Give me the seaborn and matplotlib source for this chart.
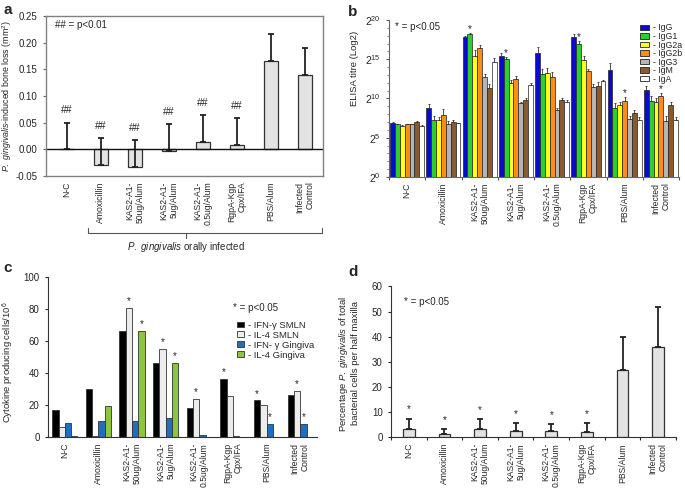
# ==========================================
# P. GINGIVALIS VACCINE FIGURE (4 PANELS)
# ==========================================
import numpy as np
import pandas as pd
import matplotlib
matplotlib.use("Agg")
import matplotlib.pyplot as plt
import matplotlib.transforms as mtransforms
from matplotlib.patches import Patch
from matplotlib.ticker import MultipleLocator, FixedLocator, FormatStrFormatter
import seaborn as sns

# -------------------------------
# 1. DATA
# -------------------------------
groups = ["N-C", "Amoxicillin", "KAS2-A1-\n50ug/Alum", "KAS2-A1-\n5ug/Alum",
          "KAS2-A1-\n0.5ug/Alum", "RgpA-Kgp\nCpx/IFA", "PBS/Alum", "Infected\nControl"]

# a - bone loss (mm2), upper error only
bone_loss = [0.0, -0.030, -0.033, -0.003, 0.013, 0.008, 0.165, 0.140]
bone_err = [0.050, 0.051, 0.050, 0.050, 0.051, 0.051, 0.051, 0.050]
bone_sig = ["##", "##", "##", "##", "##", "##", "", ""]

# b - ELISA titre (log2 exponent)
isotypes = ["IgG", "IgG1", "IgG2a", "IgG2b", "IgG3", "IgM", "IgA"]
igg = [6.84, 8.83, 17.80, 15.40, 15.75, 17.87, 13.63, 11.08]
igg1 = [6.70, 7.26, 18.20, 15.00, 13.10, 17.00, 8.75, 9.72]
igg2a = [6.54, 7.20, 15.45, 12.00, 13.20, 14.90, 9.17, 9.60]
igg2b = [6.70, 7.86, 16.40, 12.45, 12.75, 13.50, 9.72, 10.30]
igg3 = [6.70, 6.75, 12.70, 9.40, 8.50, 11.40, 7.39, 7.17]
igm = [7.00, 7.05, 11.30, 9.80, 9.75, 11.60, 8.10, 9.17]
iga = [6.54, 6.84, 14.70, 11.70, 9.55, 12.27, 7.26, 7.26]
igg_err = [0.15, 0.50, 0.20, 0.42, 0.85, 0.30, 0.85, 0.50]
igg1_err = [0.10, 0.47, 0.17, 0.30, 0.68, 0.30, 0.64, 0.55]
igg2a_err = [0.10, 0.50, 0.72, 0.30, 0.64, 0.47, 0.34, 0.42]
igg2b_err = [0.10, 0.80, 0.47, 0.38, 0.68, 0.30, 0.50, 0.42]
igg3_err = [0.10, 0.34, 0.47, 0.20, 0.25, 0.42, 0.42, 0.55]
igm_err = [0.15, 0.25, 0.55, 0.20, 0.30, 0.50, 0.38, 0.34]
iga_err = [0.10, 0.10, 0.50, 0.25, 0.20, 0.10, 0.42, 0.42]
b_sig = [(2, "IgG1"), (3, "IgG1"), (5, "IgG1"), (6, "IgG2b"), (7, "IgG2b")]

# c - cytokine producing cells / 10^6
cytokines = ["IFN-\u03b3 SMLN", "IL-4 SMLN", "IFN- \u03b3 Gingiva", "IL-4 Gingiva"]
ifn_smln = [17, 30, 66.5, 46.5, 18, 36.5, 23, 26.5]
il4_smln = [6.5, 0.5, 81, 55.5, 24, 26, 20, 29]
ifn_ging = [9, 10, 10, 12, 1.5, 0.5, 8.5, 8.5]
il4_ging = [1, 19.5, 66.5, 46.5, 0, 0, 0, 0]
c_sig = [(2, 1), (2, 3), (3, 1), (3, 3), (4, 1), (5, 0), (6, 0), (6, 2), (7, 1), (7, 2)]

# d - % P. gingivalis of total bacteria
pg_pct = [3.5, 1.5, 3.2, 2.5, 2.7, 2.0, 27.0, 36.0]
pg_err = [4.0, 1.8, 4.1, 3.2, 2.7, 3.7, 12.9, 15.8]
pg_sig = ["*", "*", "*", "*", "*", "*", "", ""]

# -------------------------------
# 2. STYLE
# -------------------------------
sns.set_style("ticks")
plt.rcParams["font.family"] = ["Liberation Sans", "DejaVu Sans"]
plt.rcParams["mathtext.fontset"] = "custom"
plt.rcParams["mathtext.rm"] = "Liberation Sans"
plt.rcParams["mathtext.it"] = "Liberation Sans:italic"
plt.rcParams["mathtext.bf"] = "Liberation Sans:bold"

bar_grey = "#e3e3e3"
edge = "#333333"
fs = 6.2
note_fs = 7
iso_colors = ["#0a0ad0", "#2ccf2c", "#ffff1a", "#ff8c1a", "#b5b5b5", "#8b5a2b", "#ffffff"]
cyt_colors = ["#000000", "#ececec", "#1f6fc0", "#8cc63e"]

fig = plt.figure(figsize=(6.85, 4.93), dpi=100)


def style_xlabels(ax):
    ax.set_xticks(range(len(groups)))
    ax.set_xticklabels(groups, rotation=90, fontsize=fs, ha="center", va="top",
                       multialignment="right")
    ax.set_xlabel("")


# -------------------------------
# 3. PANEL A - BONE LOSS
# -------------------------------
ax = fig.add_axes([0.0672, 0.643, 0.4044, 0.3245])
sns.barplot(x=groups, y=bone_loss, order=groups, color=bar_grey, saturation=1,
            width=0.4, edgecolor=edge, linewidth=0.9, ax=ax)
xs = [p.get_x() + p.get_width() / 2 for p in ax.patches]
ax.errorbar(xs, bone_loss, yerr=[np.zeros(len(xs)), bone_err], fmt="none",
            ecolor="#222222", elinewidth=1.3, capsize=2.2, capthick=1.3)
for x, v, e, s in zip(xs, bone_loss, bone_err, bone_sig):
    if s:
        ax.text(x, v + e + 0.023, s, ha="center", va="center", fontsize=7.5)
ax.axhline(0, color="#111111", lw=1)
ax.set_ylim(-0.05, 0.25)
ax.set_xlim(-0.61, 7.53)
ax.yaxis.set_major_locator(MultipleLocator(0.05))
ax.yaxis.set_major_formatter(FormatStrFormatter("%.2f"))
ax.tick_params(axis="y", labelsize=7, length=2.5, width=0.8, color="#666666")
ax.tick_params(axis="x", length=0, pad=4)
style_xlabels(ax)
for sp in ax.spines.values():
    sp.set_color("#808080")
    sp.set_linewidth(1)
ax.set_ylabel(r"$\mathit{P.\ gingivalis}$-induced bone loss (mm$^2$)", fontsize=6.4)
ax.yaxis.set_label_coords(-0.117, 0.5)
ax.text(0.032, 0.944, "## = p<0.01", transform=ax.transAxes, fontsize=note_fs, va="center")

# bracket under the infected groups
trans = mtransforms.blended_transform_factory(ax.transData, ax.transAxes)
ax.plot([0.62, 0.62, 7.5, 7.5], [-0.325, -0.356, -0.356, -0.325], color="#555555",
        lw=0.8, transform=trans, clip_on=False)
ax.plot([3.5, 3.5], [-0.356, -0.39], color="#555555", lw=0.8, transform=trans, clip_on=False)
ax.text(3.5, -0.445, r"$\mathit{P.\ gingivalis}$ orally infected", transform=trans,
        ha="center", va="center", fontsize=note_fs)

# -------------------------------
# 4. PANEL B - ELISA TITRES
# -------------------------------
titres = [igg, igg1, igg2a, igg2b, igg3, igm, iga]
errs = [igg_err, igg1_err, igg2a_err, igg2b_err, igg3_err, igm_err, iga_err]
df_b = pd.DataFrame({
    "group": np.tile(groups, len(isotypes)),
    "isotype": np.repeat(isotypes, len(groups)),
    "titre": np.concatenate(titres),
})
ax = fig.add_axes([0.5679, 0.641, 0.4234, 0.3185])
sns.barplot(data=df_b, x="group", y="titre", hue="isotype", order=groups,
            hue_order=isotypes, palette=iso_colors, saturation=1, width=0.94,
            edgecolor="#222222", linewidth=0.5, errorbar=None, legend=False, ax=ax)
for cont, vals, ee, iso in zip(ax.containers, titres, errs, isotypes):
    bx = [p.get_x() + p.get_width() / 2 for p in cont]
    ax.errorbar(bx, vals, yerr=[np.zeros(len(bx)), ee], fmt="none", ecolor="#333333",
                elinewidth=0.6, capsize=1, capthick=0.6)
    for gi, siso in b_sig:
        if siso == iso:
            ax.text(bx[gi], vals[gi] + ee[gi] + 0.5, "*", ha="center", va="center",
                    fontsize=7)
ax.set_ylim(0, 20)
ax.set_xlim(-0.5, 7.5)
ax.set_yticks([0, 5, 10, 15, 20])
ax.set_yticklabels([rf"$2^{{{n}}}$" for n in [0, 5, 10, 15, 20]], fontsize=7.5)
ax.yaxis.set_minor_locator(MultipleLocator(1))
ax.xaxis.set_minor_locator(FixedLocator(np.arange(-0.5, 8, 1)))
ax.tick_params(axis="y", which="major", length=2.5, width=0.8, color="#555555")
ax.tick_params(axis="y", which="minor", length=1.2, width=0.5, color="#555555")
ax.tick_params(axis="x", which="major", length=0, pad=4)
ax.tick_params(axis="x", which="minor", length=2.5, width=0.8, color="#555555")
style_xlabels(ax)
sns.despine(ax=ax)
for sp in ax.spines.values():
    sp.set_color("#666666")
ax.set_ylabel("ELISA titre (Log2)", fontsize=6.8)
ax.yaxis.set_label_coords(-0.103, 0.69)
ax.text(0.02, 0.955, "* = p<0.05", transform=ax.transAxes, fontsize=note_fs, va="center")
handles = [Patch(facecolor=c, edgecolor="#222222", linewidth=0.6) for c in iso_colors]
ax.legend(handles, ["- " + i for i in isotypes], loc="upper left",
          bbox_to_anchor=(636 / 685, 1 - 19 / 493), bbox_transform=fig.transFigure,
          frameon=False, fontsize=6.3, borderpad=0, handlelength=1.0, handleheight=0.6,
          handletextpad=0.4, labelspacing=-0.05)

# -------------------------------
# 5. PANEL C - CYTOKINES
# -------------------------------
cyt_vals = [ifn_smln, il4_smln, ifn_ging, il4_ging]
df_c = pd.DataFrame({
    "group": np.tile(groups, len(cytokines)),
    "cytokine": np.repeat(cytokines, len(groups)),
    "cells": np.concatenate(cyt_vals),
})
ax = fig.add_axes([0.0701, 0.113, 0.3927, 0.3245])
sns.barplot(data=df_c, x="group", y="cells", hue="cytokine", order=groups,
            hue_order=cytokines, palette=cyt_colors, saturation=1, width=0.75,
            edgecolor="#333333", linewidth=0.6, errorbar=None, legend=False, ax=ax)
for ci, (cont, vals) in enumerate(zip(ax.containers, cyt_vals)):
    bx = [p.get_x() + p.get_width() / 2 for p in cont]
    for gi, sci in c_sig:
        if sci == ci:
            ax.text(bx[gi], vals[gi] + 4, "*", ha="center", va="center", fontsize=7)
ax.set_ylim(0, 100)
ax.set_xlim(-0.5, 7.5)
ax.yaxis.set_major_locator(MultipleLocator(20))
ax.tick_params(axis="y", labelsize=7, length=2.5, width=0.8)
ax.tick_params(axis="x", length=0, pad=4)
style_xlabels(ax)
sns.despine(ax=ax)
for sp in ax.spines.values():
    sp.set_color("#333333")
ax.set_ylabel("Cytokine producing cells/10$^6$", fontsize=6.8)
ax.yaxis.set_label_coords(-0.119, 0.47)
fig.text(233 / 685, 1 - 308 / 493, "* = p<0.05", fontsize=note_fs, va="center")
handles = [Patch(facecolor=c, edgecolor="#333333", linewidth=0.6) for c in cyt_colors]
ax.legend(handles, ["- " + c for c in cytokines], loc="upper left",
          bbox_to_anchor=(232 / 685, 1 - 316 / 493), bbox_transform=fig.transFigure,
          frameon=False, fontsize=6.8, borderpad=0, handlelength=0.8, handleheight=0.55,
          handletextpad=0.4, labelspacing=0.1)

# -------------------------------
# 6. PANEL D - P. GINGIVALIS LOAD
# -------------------------------
ax = fig.add_axes([0.5708, 0.1126, 0.416, 0.3063])
sns.barplot(x=groups, y=pg_pct, order=groups, color=bar_grey, saturation=1,
            width=0.33, edgecolor=edge, linewidth=0.9, ax=ax)
xs = [p.get_x() + p.get_width() / 2 for p in ax.patches]
ax.errorbar(xs, pg_pct, yerr=[np.zeros(len(xs)), pg_err], fmt="none",
            ecolor="#222222", elinewidth=1.3, capsize=2.2, capthick=1.3)
for x, v, e, s in zip(xs, pg_pct, pg_err, pg_sig):
    if s:
        ax.text(x, v + e + 3.6, s, ha="center", va="center", fontsize=7)
ax.set_ylim(0, 60)
ax.set_xlim(-0.5, 7.5)
ax.yaxis.set_major_locator(MultipleLocator(10))
ax.xaxis.set_minor_locator(FixedLocator(np.arange(-0.5, 8, 1)))
ax.tick_params(axis="y", labelsize=7, length=2.5, width=0.8)
ax.tick_params(axis="x", which="major", length=0, pad=4)
ax.tick_params(axis="x", which="minor", length=2.5, width=0.8)
style_xlabels(ax)
sns.despine(ax=ax)
for sp in ax.spines.values():
    sp.set_color("#333333")
ax.set_ylabel("Percentage $\\mathit{P.\\ gingivalis}$ of total\nbacterial cells per half maxilla",
              fontsize=6.8)
ax.yaxis.set_label_coords(-0.109, 0.49)
ax.text(0.045, 0.9, "* = p<0.05", transform=ax.transAxes, fontsize=note_fs, va="center")

# -------------------------------
# 7. PANEL LETTERS + SAVE
# -------------------------------
for letter, (x, y) in zip("abcd", [(3, 10), (348, 12), (3, 268), (348, 272)]):
    fig.text(x / 685, 1 - y / 493, letter, fontsize=11, fontweight="bold", va="center")

fig.savefig("out.png", dpi=100)
